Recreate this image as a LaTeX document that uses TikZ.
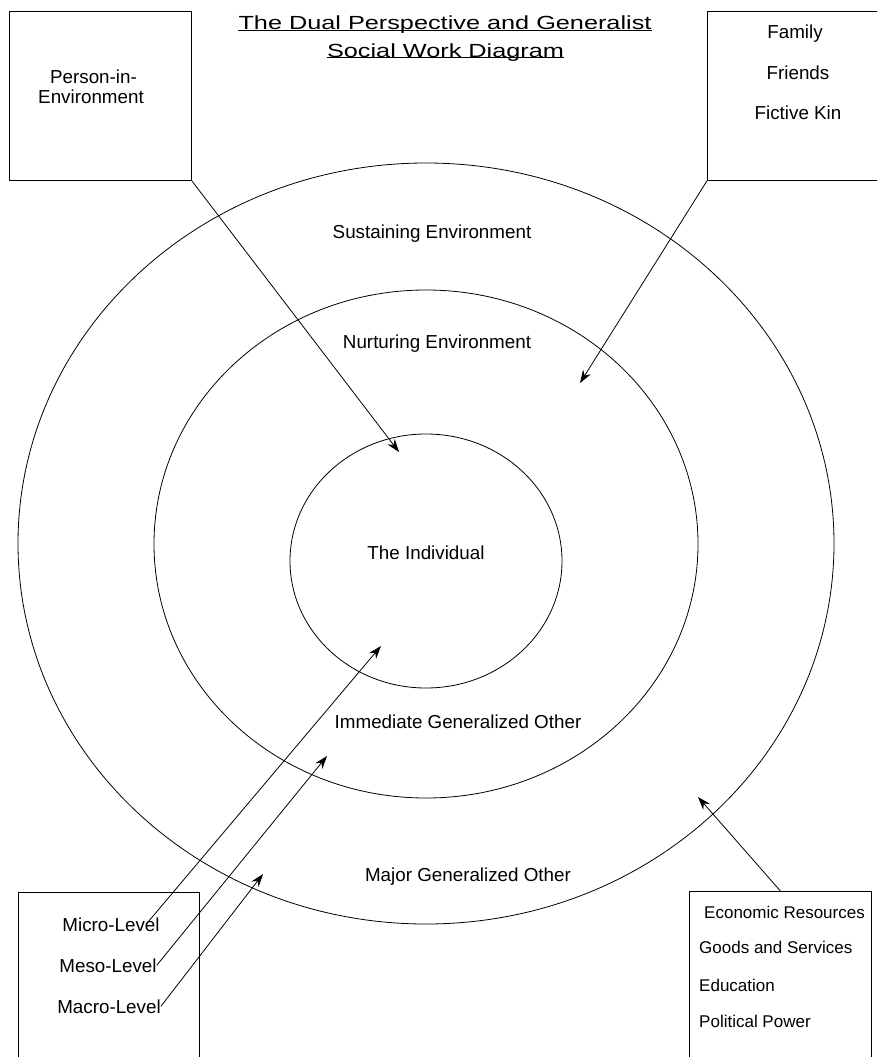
\documentclass[tikz,border=0pt]{standalone}
\usepackage{fontspec}
\setmainfont{Liberation Sans}
\newfontfamily\titlefont[FakeStretch=1.33]{Liberation Sans}
\usepackage{tikz}
\usetikzlibrary{arrows.meta,shapes.geometric}

\tikzset{
	ring/.style={draw, ellipse, inner sep=0pt, line width=0.8pt},
	sidebox/.style={draw, rectangle, inner sep=0pt, line width=0.8pt, anchor=north west},
	lbl/.style={inner sep=0pt, anchor=base, font=\fontsize{18.8}{20}\selectfont},
	lbllist/.style={inner sep=0pt, anchor=base west, font=\fontsize{17}{19}\selectfont},
	headline/.style={inner sep=0pt, anchor=base, font=\titlefont\fontsize{19}{21}\selectfont},
	pointer/.style={-{Stealth[length=13pt,width=9pt]}, line width=0.8pt}
}

\begin{document}
\begin{tikzpicture}[x=1pt,y=-1pt]
		\useasboundingbox (0,0) rectangle (877,1057);
		\clip (0,0) rectangle (877,1057);

		\node[headline] (title1) at (445,30) {The Dual Perspective and Generalist};
		\node[headline] (title2) at (445.5,57) {Social Work Diagram};
		\draw[line width=0.8pt] (title1.base west) -- (title1.base east);
		\draw[line width=0.8pt] (title2.base west) -- (title2.base east);

		\node[ring, minimum width=816, minimum height=761] (outer) at (426,543.5) {};
		\node[ring, minimum width=544, minimum height=508] (middle) at (426,544) {};
		\node[ring, minimum width=272, minimum height=254] (inner) at (426,561) {};

		\node[lbl] (sustaining) at (432,238) {Sustaining Environment};
		\node[lbl] (nurturing) at (437,348) {Nurturing Environment};
		\node[lbl] (individual) at (426,559) {The Individual};
		\node[lbl] (immediate) at (458,728) {Immediate Generalized Other};
		\node[lbl] (major) at (468,881) {Major Generalized Other};

		\node[sidebox, minimum width=182, minimum height=169] (pie) at (9,11) {};
		\node[lbl] (pie1) at (93.5,84) {Person-in-};
		\node[lbl] (pie2) at (91,103) {Environment};

		\node[sidebox, minimum width=180, minimum height=169] (fam) at (707,11) {};
		\node[lbl] (family) at (795,38) {Family};
		\node[lbl] (friends) at (798,80) {Friends};
		\node[lbl] (kin) at (798,119) {Fictive Kin};

		\node[sidebox, minimum width=181, minimum height=180] (levels) at (18,892) {};
		\node[lbl] (micro) at (111,931) {Micro-Level};
		\node[lbl] (meso) at (108,972) {Meso-Level};
		\node[lbl] (macro) at (109,1013) {Macro-Level};

		\node[sidebox, minimum width=182, minimum height=180] (resources) at (689,891) {};
		\node[lbllist] (economic) at (704,918) {Economic Resources};
		\node[lbllist] (goods) at (699,953) {Goods and Services};
		\node[lbllist] (education) at (699,991) {Education};
		\node[lbllist] (power) at (699,1027) {Political Power};

		\coordinate (pietip) at (399,452);
		\coordinate (famtip) at (580,383);
		\coordinate (microtip) at (381,646);
		\coordinate (mesotip) at (327,756);
		\coordinate (macrotip) at (263,874);
		\coordinate (resourcetip) at (698,797);

		\draw[pointer] (pie.south east) -- (pietip);
		\draw[pointer] (fam.south west) -- (famtip);
		\draw[pointer] ([xshift=-12pt,yshift=2pt]micro.east) -- (microtip);
		\draw[pointer] (meso.east) -- (mesotip);
		\draw[pointer] (macro.east) -- (macrotip);
		\draw[pointer] (resources.north) -- (resourcetip);
	\end{tikzpicture}
\end{document}
